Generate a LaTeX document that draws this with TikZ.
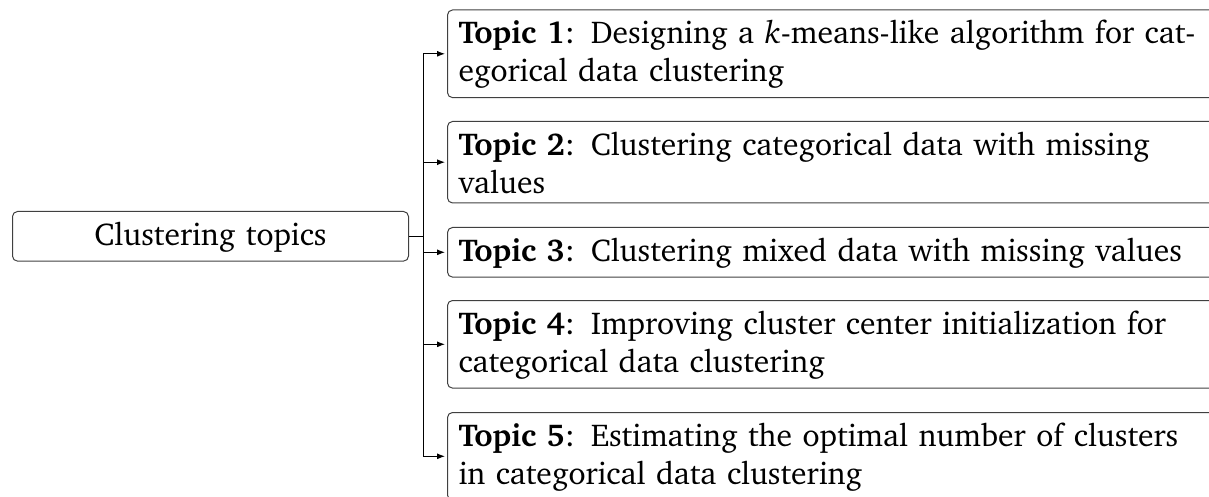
\documentclass[tikz,border=0pt]{standalone}
\usepackage[T1]{fontenc}
\usepackage{charter}
\usetikzlibrary{arrows.meta}

% text size and line spacing used in every box
\newcommand\topicfont{\fontsize{15.8pt}{19pt}\selectfont}
% fixes the height of the first line of a box
\newcommand\firstline{\rule{0pt}{12.5pt}}

\tikzset{
  topicbox/.style={draw=black!75, line width=0.5pt, rounded corners=2.5pt,
    anchor=north west, text width=380pt, align=left,
    inner xsep=5.5pt, inner ysep=4.5pt, font=\topicfont},
  rootbox/.style={topicbox, text width=187pt, align=center},
  link/.style={line width=0.5pt, -{Latex[length=4pt,width=3pt]}, shorten >=1pt},
  stub/.style={line width=0.5pt},
}

\begin{document}
\begin{tikzpicture}[x=0.5pt, y=-0.5pt]
  \useasboundingbox (0,0) rectangle (1209,497);
  \clip (0,0) rectangle (1209,497);

  % root
  \node[rootbox] (root) at (12,211) {\firstline Clustering topics};

  % topics
  \node[topicbox] (t1) at (447,9.5)
    {\firstline\textbf{Topic 1}: Designing a \textit{k}-means-like algorithm for cat-\\egorical data clustering};
  \node[topicbox] (t2) at (447,121)
    {\firstline\textbf{Topic 2}: Clustering categorical data with missing\\values};
  \node[topicbox] (t3) at (447,227)
    {\firstline\textbf{Topic 3}: Clustering mixed data with missing values};
  \node[topicbox] (t4) at (447,300)
    {\firstline\textbf{Topic 4}: Improving cluster center initialization for\\categorical data clustering};
  \node[topicbox] (t5) at (447,412)
    {\firstline\textbf{Topic 5}: Estimating the optimal number of clusters\\in categorical data clustering};

  % connectors
  \coordinate (trunk) at ([xshift=7pt]root.east);
  \draw[stub] (root.east) -- (trunk);
  \foreach \t in {t1,t2,t3,t4,t5}
    \draw[link] (trunk) |- (\t.west);
\end{tikzpicture}
\end{document}
